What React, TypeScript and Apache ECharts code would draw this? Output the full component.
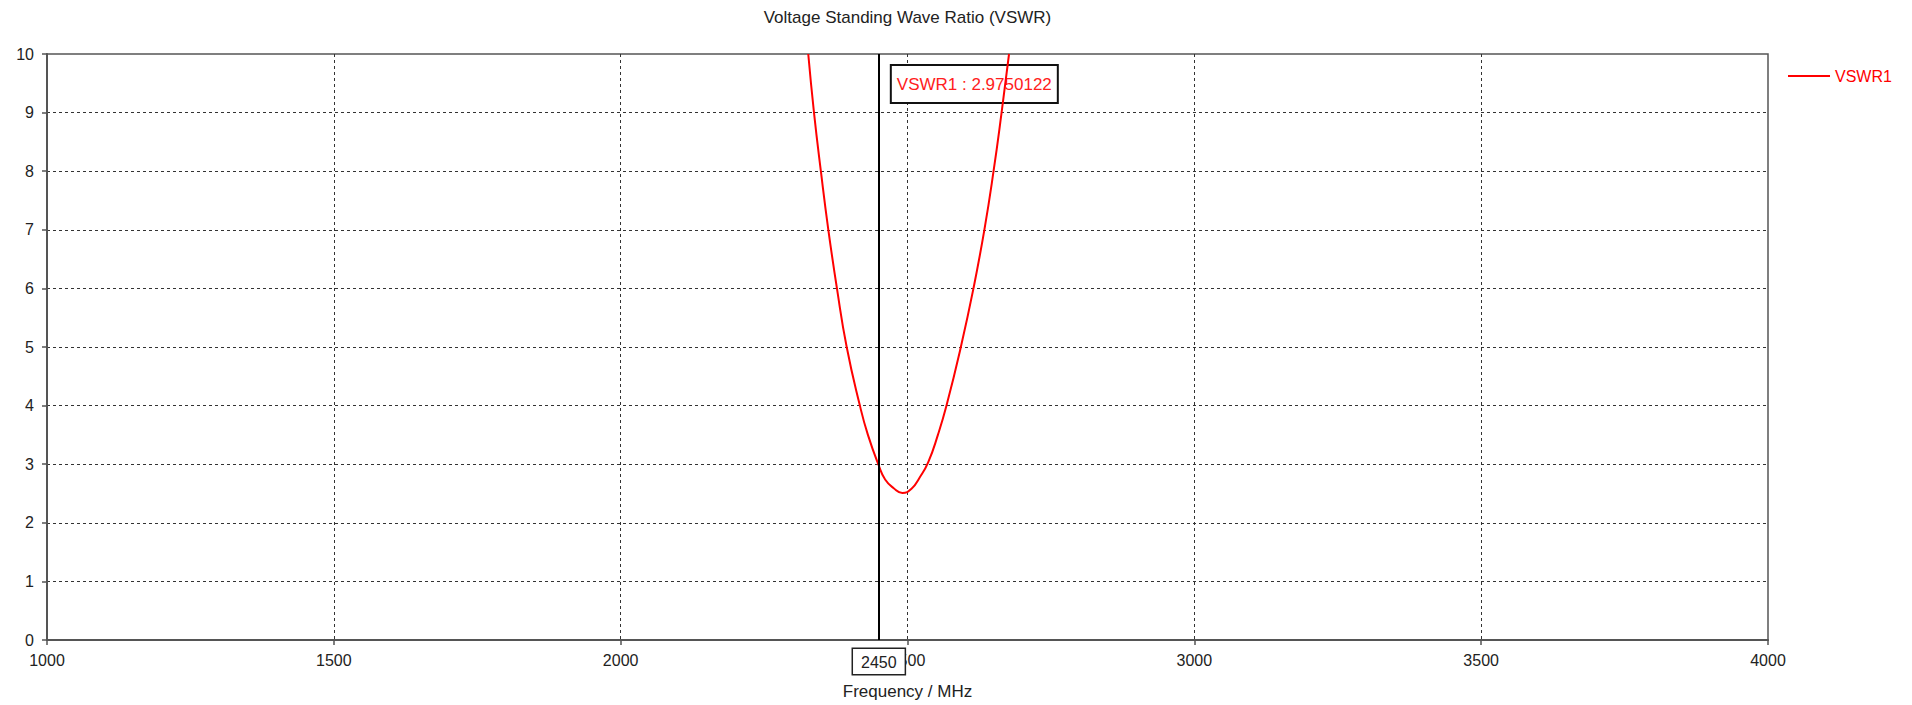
import React, { useEffect, useRef } from "react";
import * as echarts from "echarts";

const TITLE = "Voltage Standing Wave Ratio (VSWR)";
const X_NAME = "Frequency / MHz";
const SERIES_NAME = "VSWR1";
const MARKER_FREQ = 2450;
const MARKER_VALUE = "2.9750122";

// frequency (MHz)
const freqs = [2327, 2337, 2349, 2362, 2377, 2394, 2417, 2431, 2450, 2461, 2476, 2491, 2507, 2521, 2536, 2553, 2568, 2593, 2615, 2634, 2650, 2664, 2677];
// VSWR values
const vswr = [10, 9, 8, 7, 6, 5, 4, 3.5, 2.975, 2.74, 2.59, 2.51, 2.58, 2.77, 3.03, 3.5, 4, 5, 6, 7, 8, 9, 10];

const FONT = "Liberation Sans";

export default function App() {
  const ref = useRef<HTMLDivElement>(null);
  useEffect(() => {
    document.body.style.margin = "0";
    if (!ref.current) return;
    const chart = echarts.init(ref.current, null, { renderer: "svg" });
    const data = freqs.map((f, i) => [f, vswr[i]]);
    chart.setOption({
      animation: false,
      backgroundColor: "#fff",
      title: {
        text: TITLE,
        left: 907.5,
        textAlign: "center",
        top: 9,
        padding: 0,
        textStyle: { fontFamily: FONT, fontSize: 17, fontWeight: "normal", color: "#222" },
      },
      legend: {
        left: 1788,
        top: 68,
        padding: 0,
        icon: "rect",
        itemWidth: 42,
        itemHeight: 2,
        textStyle: { fontFamily: FONT, fontSize: 16, color: "#ff0000" },
        data: [SERIES_NAME],
      },
      grid: {
        left: 47,
        right: 144,
        top: 54,
        bottom: 65,
        show: true,
        borderColor: "#555",
        borderWidth: 1.5,
      },
      xAxis: {
        type: "value",
        min: 1000,
        max: 4000,
        interval: 500,
        name: X_NAME,
        nameLocation: "middle",
        nameGap: 43,
        nameTextStyle: { fontFamily: FONT, fontSize: 17, color: "#222" },
        axisLine: { show: true, onZero: false, lineStyle: { color: "#555", width: 2 } },
        axisTick: { show: true, length: 5, lineStyle: { color: "#555", width: 1.5 } },
        axisLabel: { fontFamily: FONT, fontSize: 16, color: "#222", margin: 12, formatter: (v: number) => String(v) },
        splitLine: { show: true, showMinLine: false, showMaxLine: false, lineStyle: { color: "#333", type: [3, 3], width: 1 } },
      },
      yAxis: {
        type: "value",
        min: 0,
        max: 10,
        interval: 1,
        axisLine: { show: true, onZero: false, lineStyle: { color: "#555", width: 2 } },
        axisTick: { show: true, length: 5, lineStyle: { color: "#555", width: 1.5 } },
        axisLabel: { fontFamily: FONT, fontSize: 16, color: "#222", margin: 13, formatter: (v: number) => String(v) },
        splitLine: { show: true, showMinLine: false, showMaxLine: false, lineStyle: { color: "#333", type: [3, 3], width: 1 } },
      },
      series: [
        {
          name: SERIES_NAME,
          type: "line",
          data,
          smooth: 0.5,
          symbol: "none",
          showSymbol: false,
          clip: true,
          lineStyle: { color: "#ff0000", width: 2 },
          itemStyle: { color: "#ff0000" },
          markLine: {
            silent: true,
            symbol: "none",
            lineStyle: { color: "#000", width: 2, type: "solid" },
            label: {
              show: true,
              position: "start",
              formatter: String(MARKER_FREQ),
              fontFamily: FONT,
              fontSize: 16,
              color: "#222",
              backgroundColor: "#fff",
              borderColor: "#222",
              borderWidth: 1.5,
              padding: [5, 8, 4, 8],
              distance: 9,
            },
            data: [{ xAxis: MARKER_FREQ }],
          },
        },
      ],
    });
    const px = chart.convertToPixel({ xAxisIndex: 0 }, MARKER_FREQ) as number;
    const py = chart.convertToPixel({ yAxisIndex: 0 }, 10) as number;
    chart.setOption({
      graphic: [
        {
          type: "group",
          x: px + 12,
          y: py + 11,
          children: [
            {
              type: "rect",
              shape: { x: 0, y: 0, width: 167, height: 38 },
              style: { fill: "#fff", stroke: "#111", lineWidth: 2 },
            },
            {
              type: "text",
              x: 6,
              y: 19,
              style: {
                text: SERIES_NAME + " : " + MARKER_VALUE,
                fill: "#ff2020",
                font: "17px " + FONT,
                verticalAlign: "middle",
                align: "left",
              },
            },
          ],
        },
      ],
    });
    return () => chart.dispose();
  }, []);
  return <div ref={ref} style={{ width: 1912, height: 705 }} />;
}
